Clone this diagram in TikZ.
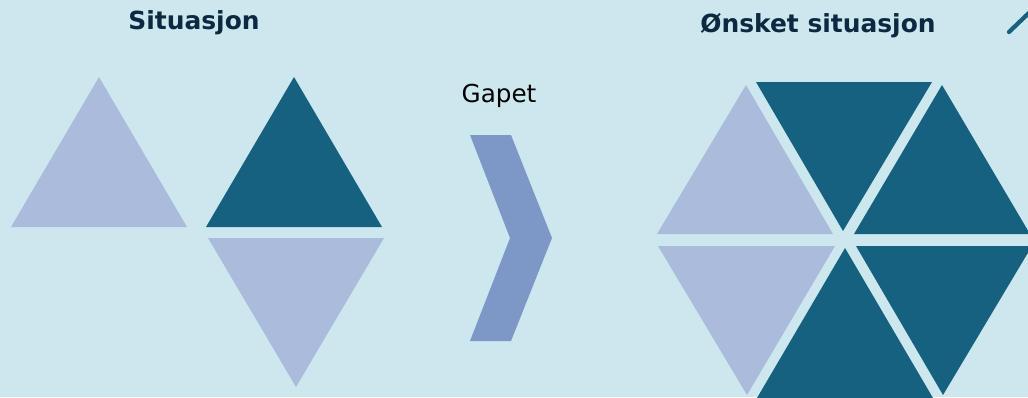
\documentclass[tikz,border=0pt]{standalone}
\usepackage{fontspec}
\setmainfont{DejaVu Sans}
\definecolor{bg}{RGB}{205,231,238}
\definecolor{lighttri}{RGB}{170,187,219}
\definecolor{darktri}{RGB}{22,96,128}
\definecolor{chev}{RGB}{125,152,199}
\definecolor{titlecol}{RGB}{14,40,65}
\begin{document}
\begin{tikzpicture}[x=0.75pt,y=-0.75pt,
  light/.style={fill=lighttri,draw=none},
  dark/.style={fill=darktri,draw=none},
  title/.style={font=\fontsize{18.7}{22}\selectfont\bfseries,text=titlecol,inner sep=0pt},
  label/.style={font=\fontsize{18.5}{22}\selectfont,text=black,inner sep=0pt}]
\useasboundingbox (0,0) rectangle (1028,397);
\clip (0,0) rectangle (1028,397);
\fill[bg] (0,0) rectangle (1028,397);
% left group
\fill[light] (99,77) -- (11,227) -- (187,227) -- cycle;
\fill[dark] (294,77) -- (206,227) -- (382,227) -- cycle;
\fill[light] (208,238) -- (384,238) -- (296,387) -- cycle;
% chevron
\fill[chev] (470,135) -- (511,135) -- (552,238) -- (511,341) -- (470,341) -- (510,238) -- cycle;
% hexagon
\fill[light] (746,85) -- (657,234) -- (833,234) -- cycle;
\fill[dark] (756,82) -- (932,82) -- (843,231) -- cycle;
\fill[dark] (942,85) -- (854,234) -- (1030,234) -- cycle;
\fill[light] (658,246) -- (835,246) -- (747,395) -- cycle;
\fill[dark] (845,248) -- (757,398) -- (933,398) -- cycle;
\fill[dark] (856,246) -- (1032,246) -- (943,395) -- cycle;
% corner stroke
\coordinate (cs) at (1009,32);
\coordinate (ce) at (1032,10);
\draw[darktri,line width=3.2pt,line cap=round] (cs) -- (ce);
% texts
\node[title,anchor=base] (sit) at (194,29.5) {Situasjon};
\node[title,anchor=base] (onsk) at (818,32) {Ønsket situasjon};
\node[label,anchor=base] (gap) at (499,102) {Gapet};
\end{tikzpicture}
\end{document}
